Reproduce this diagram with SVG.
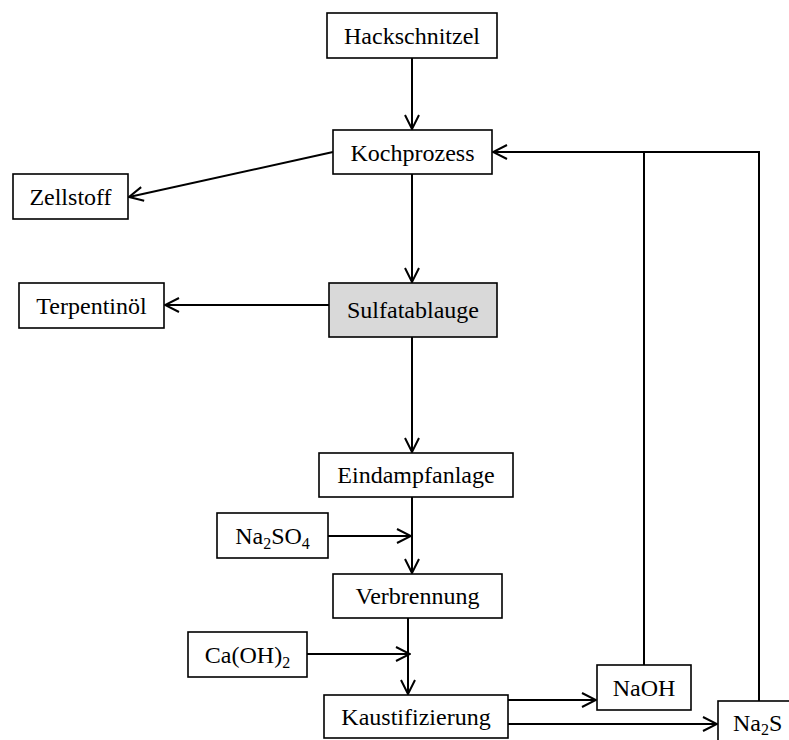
<svg xmlns="http://www.w3.org/2000/svg" width="789" height="740" viewBox="0 0 789 740">
<style>
.box{fill:#fff;stroke:#000;stroke-width:1.6}
.gray{fill:#d9d9d9}
text{font-family:"Liberation Serif","Times New Roman",serif;font-size:24px;fill:#000;text-anchor:middle}
.c{fill:none;stroke:#000;stroke-width:2}
.sub{font-size:16px}
</style>
<defs>
<marker id="ah" viewBox="0 0 16 16" refX="15" refY="8" markerWidth="16" markerHeight="16" markerUnits="userSpaceOnUse" orient="auto">
<path d="M1,1 L15,8 L1,15" fill="none" stroke="#000" stroke-width="2"/>
</marker>
</defs>
<rect width="789" height="740" fill="#fff"/>
<g id="connectors">
<path class="c" d="M412,58 V129" marker-end="url(#ah)"/>
<path class="c" d="M333,152 L129,197" marker-end="url(#ah)"/>
<path class="c" d="M412,174 V282" marker-end="url(#ah)"/>
<path class="c" d="M329,305 H165" marker-end="url(#ah)"/>
<path class="c" d="M412,337 V452" marker-end="url(#ah)"/>
<path class="c" d="M328,536 H411" marker-end="url(#ah)"/>
<path class="c" d="M412,497 V573" marker-end="url(#ah)"/>
<path class="c" d="M307,654 H410" marker-end="url(#ah)"/>
<path class="c" d="M408,618 V694" marker-end="url(#ah)"/>
<path class="c" d="M508,700 H596" marker-end="url(#ah)"/>
<path class="c" d="M508,724 H717" marker-end="url(#ah)"/>
<path class="c" d="M644,665 V152"/>
<path class="c" d="M759,701 V152 H493" marker-end="url(#ah)"/>
</g>
<g id="hackschnitzel"><rect class="box" x="327" y="13" width="170" height="45"/><text x="412" y="44">Hackschnitzel</text></g>
<g id="kochprozess"><rect class="box" x="333" y="130" width="159" height="44"/><text x="412.5" y="161">Kochprozess</text></g>
<g id="zellstoff"><rect class="box" x="13" y="174" width="115" height="45"/><text x="70.5" y="205">Zellstoff</text></g>
<g id="sulfatablauge"><rect class="box gray" x="329" y="283" width="168" height="54"/><text x="413" y="318">Sulfatablauge</text></g>
<g id="terpentinoel"><rect class="box" x="19" y="283" width="145" height="45"/><text x="91.5" y="314">Terpentinöl</text></g>
<g id="eindampfanlage"><rect class="box" x="319" y="453" width="194" height="44"/><text x="416" y="483">Eindampfanlage</text></g>
<g id="na2so4"><rect class="box" x="217" y="513" width="111" height="45"/><text x="272.5" y="544">Na<tspan class="sub" dy="5">2</tspan><tspan dy="-5">SO</tspan><tspan class="sub" dy="5">4</tspan></text></g>
<g id="verbrennung"><rect class="box" x="333" y="574" width="169" height="44"/><text x="417.5" y="604">Verbrennung</text></g>
<g id="caoh2"><rect class="box" x="188" y="632" width="119" height="45"/><text x="247.5" y="663">Ca(OH)<tspan class="sub" dy="5">2</tspan></text></g>
<g id="kaustifizierung"><rect class="box" x="324" y="695" width="184" height="43"/><text x="416" y="725">Kaustifizierung</text></g>
<g id="naoh"><rect class="box" x="597" y="665" width="94" height="45"/><text x="644" y="696">NaOH</text></g>
<g id="na2s"><rect class="box" x="718" y="701" width="80" height="45"/><text x="733" y="731" style="text-anchor:start">Na<tspan class="sub" dy="4">2</tspan><tspan dy="-4">S</tspan></text></g>
</svg>
